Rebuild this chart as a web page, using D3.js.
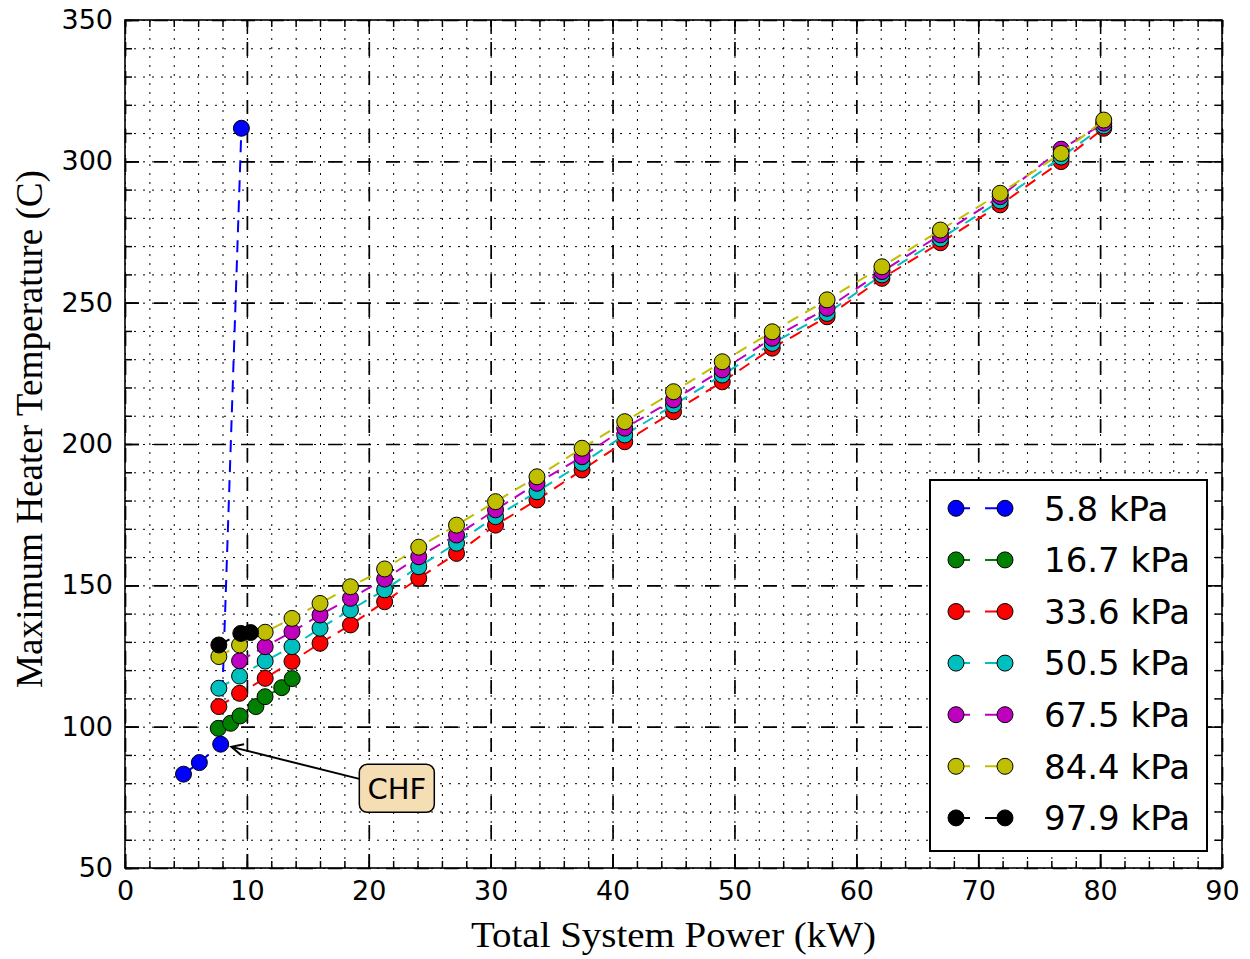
<!DOCTYPE html>
<html>
<head>
<meta charset="utf-8">
<script src="https://cdn.jsdelivr.net/npm/d3@7"></script>
<style>
body { margin: 0; background: #fff; }
</style>
</head>
<body>
<div id="chart"></div>
<script>
// series (pressure) names and matplotlib classic colours
var seriesNames = ['5.8 kPa', '16.7 kPa', '33.6 kPa', '50.5 kPa', '67.5 kPa', '84.4 kPa', '97.9 kPa'];
var seriesColors = ['#0000ff', '#008000', '#ff0000', '#00bfbf', '#bf00bf', '#bfbf00', '#000000'];

// power (kW) / max heater temperature (C) for each series
var power58 = [4.8, 6.1, 7.85, 9.55];
var temp58 = [83.2, 87.3, 93.8, 311.7];

var power167 = [7.65, 8.67, 9.43, 10.74, 11.49, 12.86, 13.72];
var temp167 = [99.4, 101.2, 103.8, 107.1, 110.6, 113.8, 117.0];

var power336 = [7.7, 9.4, 11.5, 13.7, 16.0, 18.5, 21.3, 24.1, 27.2, 30.4, 33.8, 37.5, 41.0, 45.0, 49.0, 53.1, 57.6, 62.1, 66.9, 71.8, 76.8, 80.3];
var temp336 = [107.1, 111.8, 117.1, 123.1, 129.5, 136.0, 144.2, 152.5, 161.3, 171.3, 180.2, 190.8, 200.8, 211.4, 222.0, 233.9, 245.0, 258.6, 271.2, 284.6, 299.9, 311.7];

var power505 = [7.7, 9.4, 11.5, 13.7, 16.0, 18.5, 21.3, 24.1, 27.2, 30.4, 33.8, 37.5, 41.0, 45.0, 49.0, 53.1, 57.6, 62.1, 66.9, 71.8, 76.8, 80.3];
var temp505 = [113.6, 117.9, 123.2, 128.3, 134.8, 141.3, 148.4, 156.6, 164.9, 174.3, 183.1, 193.2, 203.2, 213.8, 224.4, 235.6, 246.2, 259.8, 272.6, 286.0, 301.5, 312.5];

var power675 = [9.4, 11.5, 13.7, 16.0, 18.5, 21.3, 24.1, 27.2, 30.4, 33.8, 37.5, 41.0, 45.0, 49.0, 53.1, 57.6, 62.1, 66.9, 71.8, 76.8, 80.3];
var temp675 = [123.3, 128.3, 133.6, 139.5, 145.4, 152.2, 160.1, 167.8, 176.7, 186.1, 195.5, 205.6, 215.6, 226.2, 237.4, 248.0, 261.0, 274.0, 287.5, 304.3, 313.5];

var power844 = [7.7, 9.4, 11.5, 13.7, 16.0, 18.5, 21.3, 24.1, 27.2, 30.4, 33.8, 37.5, 41.0, 45.0, 49.0, 53.1, 57.6, 62.1, 66.9, 71.8, 76.8, 80.3];
var temp844 = [124.8, 128.9, 133.4, 138.3, 143.6, 149.5, 155.8, 163.5, 171.3, 179.6, 188.4, 198.5, 207.9, 218.5, 229.1, 239.7, 251.0, 262.7, 275.7, 288.7, 302.8, 314.6];

var power979 = [7.7, 9.5, 10.3];
var temp979 = [128.9, 133.0, 133.3];

var xMajorTicks = [0, 10, 20, 30, 40, 50, 60, 70, 80, 90];
var yMajorTicks = [50, 100, 150, 200, 250, 300, 350];
var xLabel = 'Total System Power (kW)';
var yLabel = 'Maximum Heater Temperature (C)';
var chfText = 'CHF';
var chfTextPos = [22.3, 78.2];

var powers = [power58, power167, power336, power505, power675, power844, power979];
var temps = [temp58, temp167, temp336, temp505, temp675, temp844, temp979];

var margin = { top: 20, right: 28, bottom: 91, left: 125 },
    width = 1250 - margin.left - margin.right,
    height = 959 - margin.top - margin.bottom;

var xScale = d3.scaleLinear().domain([0, 90]).range([0, width]);
var yScale = d3.scaleLinear().domain([50, 350]).range([height, 0]);

var svg = d3.select('#chart').append('svg')
    .attr('width', 1250)
    .attr('height', 959);

var plot = svg.append('g')
    .attr('transform', 'translate(' + margin.left + ',' + margin.top + ')');

// minor grid (dotted), drawn at every minor step like old matplotlib
var xMinor = d3.range(0, 90.1, 2);
var yMinor = d3.range(50, 350.1, 10);

function gridLines(axis, cls, dash, w) {
    var g = plot.append('g').attr('class', cls).call(axis);
    g.select('.domain').remove();
    g.selectAll('line')
        .attr('stroke', '#000')
        .attr('stroke-width', w)
        .attr('stroke-dasharray', dash);
    return g;
}

gridLines(d3.axisBottom(xScale).tickValues(xMinor).tickSize(-height).tickFormat(''), 'grid', '2,7', 1)
    .attr('transform', 'translate(0,' + height + ')');
gridLines(d3.axisLeft(yScale).tickValues(yMinor).tickSize(-width).tickFormat(''), 'grid', '2,7', 1);
gridLines(d3.axisBottom(xScale).tickValues(xMajorTicks).tickSize(-height).tickFormat(''), 'grid', '14,15', 1.7)
    .attr('transform', 'translate(0,' + height + ')');
gridLines(d3.axisLeft(yScale).tickValues(yMajorTicks).tickSize(-width).tickFormat(''), 'grid', '14,15', 1.7);

// series
var line = d3.line()
    .x(function(d) { return xScale(d.p); })
    .y(function(d) { return yScale(d.t); });

var series = seriesNames.map(function(name, i) {
    return {
        name: name,
        color: seriesColors[i],
        values: powers[i].map(function(p, j) { return { p: p, t: temps[i][j] }; })
    };
});

series.forEach(function(s) {
    var g = plot.append('g').attr('class', 'series');
    g.append('path')
        .datum(s.values)
        .attr('d', line)
        .attr('fill', 'none')
        .attr('stroke', s.color)
        .attr('stroke-width', 2)
        .attr('stroke-dasharray', '12,8');
    g.selectAll('circle')
        .data(s.values).enter()
        .append('circle')
        .attr('cx', function(d) { return xScale(d.p); })
        .attr('cy', function(d) { return yScale(d.t); })
        .attr('r', 8)
        .attr('fill', s.color)
        .attr('stroke', '#000')
        .attr('stroke-width', 1);
});

// CHF annotation
var tx = xScale(power58[2]), ty = yScale(temp58[2]);
var bx = xScale(chfTextPos[0]), by = yScale(chfTextPos[1]);
var boxW = 75, boxH = 48;
var dx = tx - bx, dy = ty - by, len = Math.sqrt(dx * dx + dy * dy);
var ux = dx / len, uy = dy / len;
var startT = (boxW / 2) / Math.abs(ux);
var sx = bx + ux * startT, sy = by + uy * startT;
var ex = tx - ux * 11, ey = ty - uy * 11;
var ang = Math.atan2(uy, ux), head = 13, spread = 0.45;

plot.append('line')
    .attr('x1', sx).attr('y1', sy)
    .attr('x2', ex).attr('y2', ey)
    .attr('stroke', '#000').attr('stroke-width', 2);
plot.append('path')
    .attr('d', 'M' + (ex - head * Math.cos(ang - spread)) + ',' + (ey - head * Math.sin(ang - spread)) +
        'L' + ex + ',' + ey +
        'L' + (ex - head * Math.cos(ang + spread)) + ',' + (ey - head * Math.sin(ang + spread)))
    .attr('fill', 'none').attr('stroke', '#000').attr('stroke-width', 2);
plot.append('rect')
    .attr('x', bx - boxW / 2).attr('y', by - boxH / 2)
    .attr('width', boxW).attr('height', boxH)
    .attr('rx', 8).attr('ry', 8)
    .attr('fill', '#f5deb3').attr('stroke', '#000').attr('stroke-width', 1.5);
plot.append('text')
    .attr('x', bx).attr('y', by)
    .attr('dy', '0.36em')
    .attr('text-anchor', 'middle')
    .attr('font-family', 'DejaVu Sans')
    .attr('font-size', 29)
    .text(chfText);

// frame
plot.append('rect')
    .attr('width', width).attr('height', height)
    .attr('fill', 'none').attr('stroke', '#000').attr('stroke-width', 1.6);

// ticks (inward, all four sides)
function tickAxis(axis, tr) {
    var g = plot.append('g').attr('transform', tr).call(axis);
    g.select('.domain').remove();
    g.selectAll('line').attr('stroke', '#000').attr('stroke-width', 1.5);
    g.selectAll('text')
        .attr('font-family', 'DejaVu Sans')
        .attr('font-size', 27)
        .attr('fill', '#000');
    return g;
}

tickAxis(d3.axisBottom(xScale).tickValues(xMajorTicks).tickSize(-14).tickPadding(13).tickFormat(d3.format('d')),
    'translate(0,' + height + ')');
tickAxis(d3.axisBottom(xScale).tickValues(xMinor).tickSize(-7).tickFormat(''), 'translate(0,' + height + ')');
tickAxis(d3.axisTop(xScale).tickValues(xMajorTicks).tickSize(-14).tickFormat(''), 'translate(0,0)');
tickAxis(d3.axisTop(xScale).tickValues(xMinor).tickSize(-7).tickFormat(''), 'translate(0,0)');
tickAxis(d3.axisLeft(yScale).tickValues(yMajorTicks).tickSize(-14).tickPadding(12).tickFormat(d3.format('d')),
    'translate(0,0)');
tickAxis(d3.axisLeft(yScale).tickValues(yMinor).tickSize(-7).tickFormat(''), 'translate(0,0)');
tickAxis(d3.axisRight(yScale).tickValues(yMajorTicks).tickSize(-14).tickFormat(''), 'translate(' + width + ',0)');
tickAxis(d3.axisRight(yScale).tickValues(yMinor).tickSize(-7).tickFormat(''), 'translate(' + width + ',0)');

// axis labels
svg.append('text')
    .attr('x', margin.left + width / 2)
    .attr('y', 947)
    .attr('text-anchor', 'middle')
    .attr('font-family', 'Liberation Serif')
    .attr('font-size', 35)
    .attr('textLength', 405)
    .attr('lengthAdjust', 'spacingAndGlyphs')
    .text(xLabel);

svg.append('text')
    .attr('transform', 'translate(42,429) rotate(-90)')
    .attr('text-anchor', 'middle')
    .attr('font-family', 'Liberation Serif')
    .attr('font-size', 38)
    .attr('textLength', 518)
    .attr('lengthAdjust', 'spacingAndGlyphs')
    .text(yLabel);

// legend
var legW = 277, legH = 371, rowH = 51.6;
var legend = plot.append('g')
    .attr('transform', 'translate(' + (width - 15 - legW) + ',' + (height - 17 - legH) + ')');
legend.append('rect')
    .attr('width', legW).attr('height', legH)
    .attr('fill', '#fff').attr('stroke', '#000').attr('stroke-width', 2);

var rows = legend.selectAll('g.row')
    .data(series).enter()
    .append('g')
    .attr('class', 'row')
    .attr('transform', function(d, i) { return 'translate(0,' + (28.3 + i * rowH) + ')'; });
rows.append('line')
    .attr('x1', 26).attr('x2', 75)
    .attr('stroke', function(d) { return d.color; })
    .attr('stroke-width', 2)
    .attr('stroke-dasharray', '14,15');
rows.selectAll('circle')
    .data(function(d) { return [d, d]; }).enter()
    .append('circle')
    .attr('cx', function(d, i) { return i === 0 ? 26 : 75; })
    .attr('r', 8)
    .attr('fill', function(d) { return d.color; })
    .attr('stroke', '#000').attr('stroke-width', 1);
rows.append('text')
    .attr('x', 114)
    .attr('dy', '0.36em')
    .attr('font-family', 'DejaVu Sans')
    .attr('font-size', 34)
    .text(function(d) { return d.name; });
</script>
</body>
</html>
